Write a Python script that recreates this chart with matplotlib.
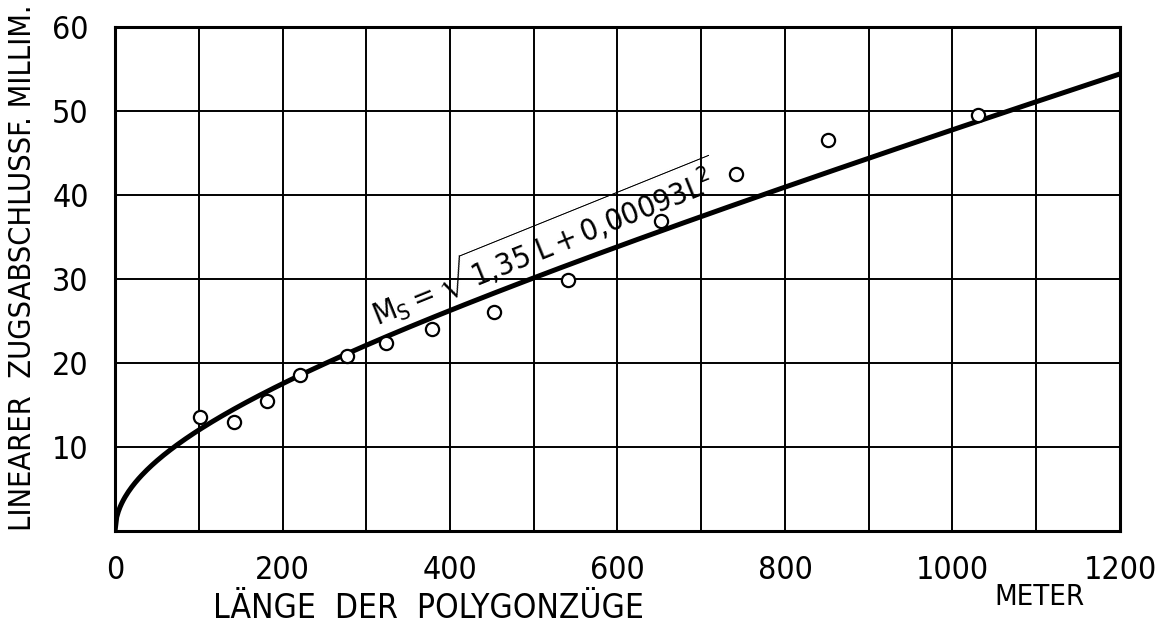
import numpy as np
import matplotlib
matplotlib.use("Agg")
import matplotlib.pyplot as plt

laenge = [101, 142, 181, 221, 277, 323, 378, 453, 541, 652, 742, 851, 1030]
m_s = [13.6, 13.0, 15.5, 18.6, 20.8, 22.4, 24.1, 26.1, 29.9, 36.9, 42.5, 46.5, 49.5]

# Fitted formula shown on the chart: M_s = sqrt(a*L + b*L^2)
coef_a = 1.35
coef_b = 0.00093

x_ticks = [0, 200, 400, 600, 800, 1000, 1200]
y_ticks = [10, 20, 30, 40, 50, 60]

plt.rcParams["font.family"] = ["DejaVu Sans"]
plt.rcParams["font.stretch"] = "condensed"
plt.rcParams["mathtext.fontset"] = "custom"
plt.rcParams["mathtext.rm"] = "DejaVu Sans:stretch=condensed"
plt.rcParams["mathtext.it"] = "DejaVu Sans:stretch=condensed"

fig = plt.figure(figsize=(11.63, 6.43), dpi=100)
ax = fig.add_axes([0.0989, 0.1742, 0.8641, 0.784])

L = np.linspace(0, 1200, 600)
ax.plot(L, np.sqrt(coef_a * L + coef_b * L**2), color="black", lw=3.6,
        solid_capstyle="butt", zorder=3)
ax.plot(laenge, m_s, "o", ms=9.5, mfc="white", mec="black", mew=1.6, zorder=4)

ax.set_xlim(0, 1200)
ax.set_ylim(0, 60)
ax.set_xticks(range(0, 1201, 100))
ax.set_yticks(range(0, 61, 10))
ax.grid(True, color="black", lw=1.4)
ax.set_xticklabels([str(v) if v in x_ticks else "" for v in range(0, 1201, 100)])
ax.set_yticklabels([str(v) if v in y_ticks else "" for v in range(0, 61, 10)])
ax.tick_params(length=0, labelsize=23)
ax.tick_params(axis="x", pad=17)
ax.tick_params(axis="y", pad=19)
for s in ax.spines.values():
    s.set_linewidth(2.2)

ax.text(313, 24.4, r"$\mathrm{M_S=\sqrt{1{,}35\;L+0{,}00093L^2}}$",
        rotation=22, rotation_mode="anchor", ha="left", va="baseline",
        fontsize=22, zorder=5)

fig.text(0.368, 0.054, "LÄNGE  DER  POLYGONZÜGE", ha="center", va="center",
         fontsize=24)
fig.text(0.894, 0.071, "METER", ha="center", va="center", fontsize=21)
fig.text(0.019, 0.583, "LINEARER  ZUGSABSCHLUSSF. MILLIM.", rotation=90,
         ha="center", va="center", fontsize=22)

fig.savefig("out.png", dpi=100)
